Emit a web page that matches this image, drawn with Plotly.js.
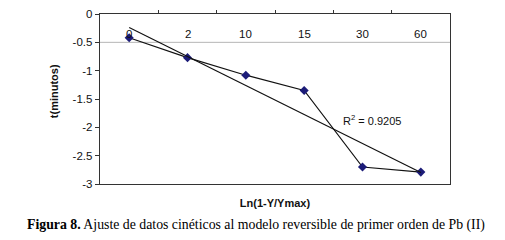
<!DOCTYPE html>
<html>
<head>
<meta charset="utf-8">
<script src="https://cdn.plot.ly/plotly-3.0.1.min.js"></script>
<style>html,body{margin:0;padding:0;background:#fff;}#chart{width:505px;height:240px;}</style>
</head>
<body>
<div id="chart"></div>
<script>
// ---- data ----
var categories = ['0', '2', '10', '15', '30', '60'];
var tValues = [-0.42, -0.77, -1.08, -1.35, -2.70, -2.79];
var yTickVals = [0, -0.5, -1, -1.5, -2, -2.5, -3];
var yTickText = ['0', '-0.5', '-1', '-1.5', '-2', '-2.5', '-3'];
var r2Label = 'R<sup>2</sup> = 0.9205';
var xTitle = 'Ln(1-Y/Ymax)';
var yTitle = 't(minutos)';
var caption = '<b>Figura 8.</b> Ajuste de datos cinéticos al modelo reversible de primer orden de Pb (II)';

// linear trend (least squares on category index 1..n, as Excel does)
var n = tValues.length;
var xs = tValues.map(function (v, i) { return i + 1; });
var mx = xs.reduce(function (a, b) { return a + b; }, 0) / n;
var my = tValues.reduce(function (a, b) { return a + b; }, 0) / n;
var sxy = 0, sxx = 0;
for (var i = 0; i < n; i++) { sxy += (xs[i] - mx) * (tValues[i] - my); sxx += (xs[i] - mx) * (xs[i] - mx); }
var slope = sxy / sxx, icpt = my - slope * mx;
var trendY = xs.map(function (x) { return icpt + slope * x; });

var boundaries = [];
for (var k = 0; k < categories.length - 1; k++) boundaries.push(k + 0.5);

var sans = 'Liberation Sans Narrow, Arial Narrow, Liberation Sans, Arial, sans-serif';
var fs = 11;

var traces = [
  {
    x: categories, y: tValues,
    type: 'scatter', mode: 'lines+markers',
    line: { color: '#111', width: 1.2 },
    marker: { symbol: 'diamond', size: 7, color: '#1c1c78', line: { width: 0 } },
    showlegend: false
  },
  {
    x: [categories[0], categories[n - 1]],
    y: [trendY[0], trendY[n - 1]],
    type: 'scatter', mode: 'lines',
    line: { color: '#111', width: 1.2 },
    hoverinfo: 'skip', showlegend: false
  },
  { x: [0], y: [null], xaxis: 'x2', type: 'scatter', mode: 'markers', showlegend: false, hoverinfo: 'skip' }
];

var catAnnotations = categories.map(function (c, idx) {
  return {
    x: idx, y: -0.5, xref: 'x', yref: 'y', text: c, showarrow: false,
    yanchor: 'bottom', yshift: 0,
    font: { family: sans, size: fs + 0.5, color: '#111' }
  };
});

var layout = {
  width: 505, height: 240,
  margin: { l: 100, r: 55, t: 14, b: 56 },
  paper_bgcolor: '#fff', plot_bgcolor: '#fff',
  font: { family: sans, size: fs, color: '#111' },
  xaxis: {
    type: 'category', categoryorder: 'array', categoryarray: categories,
    range: [-0.5, categories.length - 0.5],
    showticklabels: false, ticks: '', showgrid: false, zeroline: false,
    showline: true, mirror: true, linecolor: '#333', linewidth: 1.3,
    title: { text: '<b>' + xTitle + '</b>', font: { family: sans, size: fs, color: '#111' }, standoff: 15 },
    automargin: false, fixedrange: true
  },
  xaxis2: {
    overlaying: 'x', side: 'top', range: [-0.5, categories.length - 0.5],
    tickvals: boundaries, ticks: 'outside', ticklen: 3, tickcolor: '#333',
    showticklabels: false, showgrid: false, zeroline: false, showline: false
  },
  yaxis: {
    range: [-3, 0], tickvals: yTickVals, ticktext: yTickText,
    ticks: 'outside', ticklen: 4, tickcolor: '#333',
    showgrid: false, zeroline: false,
    showline: true, mirror: true, linecolor: '#333', linewidth: 1.3,
    tickfont: { family: sans, size: fs + 0.5, color: '#111' },
    automargin: false, fixedrange: true
  },
  shapes: [
    { type: 'line', xref: 'paper', x0: 0, x1: 1, yref: 'y', y0: -0.5, y1: -0.5,
      line: { color: '#b5b5b5', width: 1 }, layer: 'below' }
  ],
  annotations: catAnnotations.concat([
    { x: -0.131, y: 0.547, xref: 'paper', yref: 'paper', text: '<b>' + yTitle + '</b>',
      textangle: -90, showarrow: false, xanchor: 'center', yanchor: 'middle',
      font: { family: sans, size: fs, color: '#111' } },
    { x: 4.17, y: -1.87, xref: 'x', yref: 'y', text: r2Label, showarrow: false,
      font: { family: sans, size: fs, color: '#111' } },
    { x: 0.446, y: -0.24, xref: 'paper', yref: 'paper', text: caption, showarrow: false,
      xanchor: 'center', yanchor: 'middle',
      font: { family: 'Liberation Serif, Times New Roman, serif', size: 13.8, color: '#000' } }
  ])
};

Plotly.newPlot('chart', traces, layout, { staticPlot: true, displayModeBar: false });
</script>
</body>
</html>
